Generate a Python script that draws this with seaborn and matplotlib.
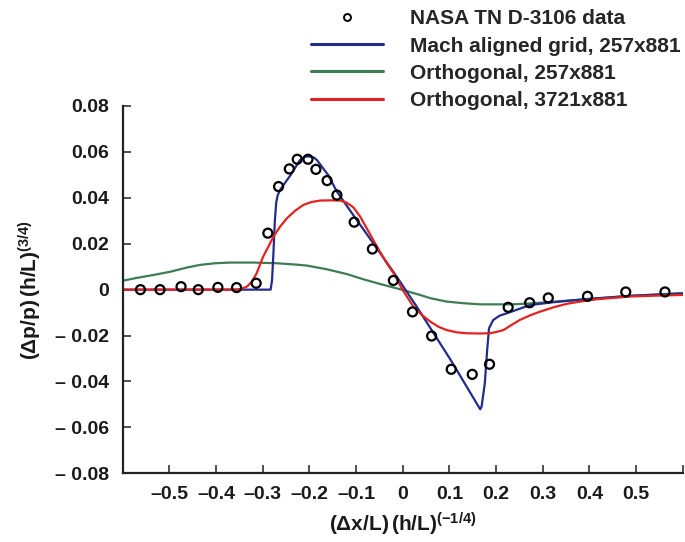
import matplotlib
matplotlib.use("Agg")
import matplotlib.pyplot as plt
from matplotlib.lines import Line2D
import seaborn as sns

# ---------------- data ----------------
nasa_x = [-0.562, -0.520, -0.475, -0.438, -0.396, -0.356, -0.314, -0.289, -0.266,
          -0.243, -0.226, -0.203, -0.186, -0.162, -0.141, -0.104, -0.065, -0.020,
          0.021, 0.062, 0.104, 0.149, 0.186, 0.226, 0.272, 0.312, 0.396, 0.478, 0.562]
nasa_y = [0.0, 0.0, 0.0013, 0.0, 0.001, 0.0009, 0.0028, 0.0246, 0.0449,
          0.0526, 0.0568, 0.0568, 0.0524, 0.0475, 0.0412, 0.0294, 0.0177, 0.0040,
          -0.0097, -0.0202, -0.0347, -0.0369, -0.0325, -0.0077, -0.0057, -0.0036,
          -0.0029, -0.0010, -0.0010]

mach_x = [-0.60, -0.40, -0.283, -0.280, -0.277, -0.274, -0.271, -0.268, -0.263, -0.240,
          -0.220, -0.208, -0.198, -0.190, -0.184, -0.160, -0.141, -0.106, -0.063,
          -0.013, 0.030, 0.104, 0.166, 0.169, 0.176, 0.181, 0.185, 0.194, 0.208,
          0.223, 0.273, 0.322, 0.394, 0.487, 0.600]
mach_y = [0.0, 0.0, 0.0, 0.004, 0.016, 0.030, 0.038, 0.041, 0.0434, 0.0500,
          0.0565, 0.0580, 0.0580, 0.0575, 0.0565, 0.0500, 0.0427, 0.0325, 0.0202,
          0.0057, -0.0074, -0.0310, -0.0521, -0.0510, -0.0408, -0.0263, -0.0168,
          -0.0132, -0.0113, -0.0103, -0.0067, -0.0055, -0.0041, -0.0027, -0.0016]

orth257_x = [-0.600, -0.570, -0.534, -0.498, -0.463, -0.434, -0.402, -0.370, -0.320,
             -0.270, -0.234, -0.206, -0.163, -0.120, -0.084, -0.049, -0.006, 0.037,
             0.059, 0.094, 0.130, 0.166, 0.237, 0.273, 0.308, 0.351, 0.394, 0.487,
             0.600]
orth257_y = [0.0039, 0.0051, 0.0064, 0.0078, 0.0096, 0.0108, 0.0115, 0.0118, 0.0118,
             0.0115, 0.0110, 0.0105, 0.0089, 0.0068, 0.0045, 0.0025, 0.0002, -0.0023,
             -0.0037, -0.0052, -0.0059, -0.0064, -0.0064, -0.0060, -0.0055, -0.0048,
             -0.0042, -0.0027, -0.0016]

orth3721_x = [-0.600, -0.400, -0.356, -0.345, -0.334, -0.323, -0.313, -0.306, -0.299,
              -0.288, -0.277, -0.263, -0.248, -0.231, -0.213, -0.195, -0.177, -0.156,
              -0.134, -0.120, -0.106, -0.091, -0.077, -0.063, -0.049, -0.034, -0.017,
              -0.002, 0.009, 0.023, 0.041, 0.059, 0.076, 0.094, 0.116, 0.137, 0.166,
              0.187, 0.201, 0.216, 0.233, 0.251, 0.273, 0.294, 0.323, 0.351, 0.380,
              0.415, 0.451, 0.487, 0.544, 0.600]
orth3721_y = [0.0, 0.0, 0.0, 0.0004, 0.0013, 0.0035, 0.0071, 0.0108, 0.0144,
              0.0187, 0.0231, 0.0274, 0.0311, 0.0343, 0.0369, 0.0382, 0.0388, 0.0389,
              0.0388, 0.0379, 0.0359, 0.0318, 0.0267, 0.0216, 0.0166, 0.0115, 0.0064,
              0.0005, -0.0030, -0.0074, -0.0110, -0.0139, -0.0161, -0.0176, -0.0186,
              -0.0190, -0.0191, -0.0190, -0.0184, -0.0176, -0.0154, -0.0132, -0.0112,
              -0.0096, -0.0077, -0.0062, -0.0052, -0.0042, -0.0036, -0.0030, -0.0026,
              -0.0023]

series_labels = ["NASA TN D-3106 data", "Mach aligned grid, 257x881",
                 "Orthogonal, 257x881", "Orthogonal, 3721x881"]

x_ticks = [-0.6, -0.5, -0.4, -0.3, -0.2, -0.1, 0.0, 0.1, 0.2, 0.3, 0.4, 0.5, 0.6]
x_ticklabels = ["", "\u20130.5", "\u20130.4", "\u20130.3", "\u20130.2", "\u20130.1", "0",
                "0.1", "0.2", "0.3", "0.4", "0.5", ""]
y_ticks = [-0.08, -0.06, -0.04, -0.02, 0.0, 0.02, 0.04, 0.06, 0.08]
y_ticklabels = ["\u2013 0.08", "\u2013 0.06", "\u2013 0.04", "\u2013 0.02", "0",
                "0.02", "0.04", "0.06", "0.08"]

# ---------------- style ----------------
sns.set_theme(style="ticks")
plt.rcParams["font.family"] = ["Liberation Sans", "DejaVu Sans"]
plt.rcParams["font.weight"] = "bold"
plt.rcParams["mathtext.fontset"] = "custom"
plt.rcParams["mathtext.rm"] = "Liberation Sans:bold"
plt.rcParams["mathtext.bf"] = "Liberation Sans:bold"
plt.rcParams["mathtext.it"] = "Liberation Sans:bold"

c_blue = "#232c8c"
c_green = "#3e7c55"
c_red = "#e2231f"

W, H = 685, 542
fig = plt.figure(figsize=(W / 100, H / 100), dpi=100)
ax = fig.add_axes([122.7 / W, 1 - 473.3 / H, 560 / W, 367.3 / H])

sns.lineplot(x=orth257_x, y=orth257_y, ax=ax, color=c_green, lw=1.6,
             sort=False, estimator=None)
sns.lineplot(x=mach_x, y=mach_y, ax=ax, color=c_blue, lw=1.6,
             sort=False, estimator=None)
sns.lineplot(x=orth3721_x, y=orth3721_y, ax=ax, color=c_red, lw=1.6,
             sort=False, estimator=None)
sns.scatterplot(x=nasa_x, y=nasa_y, ax=ax, marker="o", s=42,
                facecolor="none", edgecolor="black", linewidth=1.6, zorder=5)

ax.set_xlim(-0.6, 0.6)
ax.set_ylim(-0.08, 0.08)
ax.set_xticks(x_ticks)
ax.set_xticklabels(x_ticklabels)
ax.set_yticks(y_ticks)
ax.set_yticklabels(y_ticklabels)

for s in ["top", "right"]:
    ax.spines[s].set_visible(False)
for s in ["left", "bottom"]:
    ax.spines[s].set_linewidth(1.6)
    ax.spines[s].set_color("#222222")

ax.tick_params(axis="both", direction="in", length=5.5, width=1.1,
               color="#222222", labelsize=14)
ax.tick_params(axis="y", pad=10)
ax.tick_params(axis="x", pad=9)
for lab in ax.get_xticklabels() + ax.get_yticklabels():
    lab.set_fontweight("bold")
    lab.set_color("#1a1a1a")

ax.set_xlabel(r"$(\Delta x/L)\,(h/L)^{(-1/4)}$", fontsize=15, labelpad=6,
              color="#1a1a1a")
ax.set_ylabel(r"$(\Delta p/p)\,(h/L)^{(3/4)}$", fontsize=15, labelpad=8,
              color="#1a1a1a")

handles = [
    Line2D([], [], ls="none", marker="o", ms=5, mfc="none", mec="black", mew=1.4),
    Line2D([], [], color=c_blue, lw=2.2),
    Line2D([], [], color=c_green, lw=2.2),
    Line2D([], [], color=c_red, lw=2.2),
]
fig.legend(handles, series_labels, loc="upper left",
           bbox_to_anchor=(311 / W, 1 - 9.5 / H), frameon=False,
           prop={"size": 15, "weight": "bold"}, handlelength=3.45,
           handletextpad=1.3, labelspacing=0.39, borderpad=0, borderaxespad=0)

fig.savefig("out.png", dpi=100)
